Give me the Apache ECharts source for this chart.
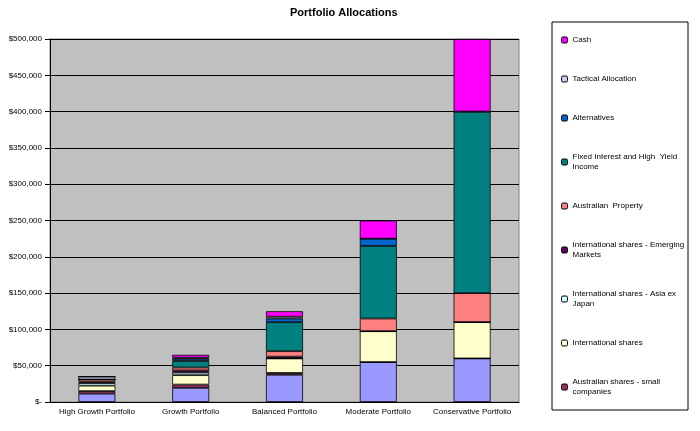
<!DOCTYPE html>
<html><head><meta charset="utf-8">
<script src="https://cdn.jsdelivr.net/npm/echarts@6/dist/echarts.min.js"></script>
<style>html,body{margin:0;padding:0;background:#fff}#c{width:700px;height:431px}</style>
</head><body><div id="c"></div>
<script>
const categories = ['High Growth Portfolio','Growth Portfolio','Balanced Portfolio','Moderate Portfolio','Conservative Portfolio'];
const seriesNames = ['Australian shares','Australian shares - small companies','International shares','International shares - Asia ex Japan','International shares - Emerging Markets','Australian Property','Fixed Interest and High  Yield Income','Alternatives','Tactical Allocation','Cash'];
const legendLabels = ['Australian shares','Australian shares - small companies','International shares','International shares - Asia ex Japan','International shares - Emerging\nMarkets','Australian  Property','Fixed Interest and High  Yield Income','Alternatives','Tactical Allocation','Cash'];
const colors = ['#9999FF','#993366','#FFFFCC','#CCFFFF','#660066','#FF8080','#008080','#0066CC','#CCCCFF','#FF00FF'];
const australianShares = [11500, 19500, 37500, 55000, 60000];
const ausSmall = [3500, 4500, 2500, 0, 0];
const intlShares = [7500, 13000, 20000, 42500, 50000];
const asiaExJapan = [3500, 3500, 0, 0, 0];
const emerging = [2000, 3000, 2500, 0, 0];
const property = [3000, 4000, 7500, 17500, 40000];
const fixedInterest = [0, 9000, 40000, 100000, 250000];
const alternatives = [0, 3000, 5000, 10000, 0];
const tactical = [4000, 1500, 2500, 0, 0];
const cash = [0, 4000, 7500, 25000, 100000];
const values = [australianShares, ausSmall, intlShares, asiaExJapan, emerging, property, fixedInterest, alternatives, tactical, cash];
const yTicks = {0:'$-'};

const chart = echarts.init(document.getElementById('c'));
const font = 'Liberation Sans';
chart.setOption({
  animation:false,
  title:{text:'Portfolio Allocations',left:285,top:2,textStyle:{fontFamily:font,fontSize:11,fontWeight:'bold',color:'#000'}},
  grid:{left:50,right:181,top:39,bottom:29,show:true,backgroundColor:'#C0C0C0',borderColor:'#808080',borderWidth:1},
  xAxis:{type:'category',data:categories,axisLine:{lineStyle:{color:'#000'}},axisTick:{lineStyle:{color:'#000'}},
    axisLabel:{fontFamily:font,fontSize:8,color:'#000',interval:0,margin:6}},
  yAxis:{type:'value',min:0,max:500000,interval:50000,axisLine:{show:true,lineStyle:{color:'#000'}},axisTick:{show:true,lineStyle:{color:'#000'}},
    splitLine:{lineStyle:{color:'#000',width:1}},
    axisLabel:{fontFamily:font,fontSize:8,color:'#000',formatter:v=>yTicks[v]||('$'+v.toLocaleString('en-US'))}},
  legend:{orient:'vertical',left:556,top:30,itemWidth:6,itemHeight:6,itemGap:29,
    data:seriesNames.slice().reverse(),
    formatter:n=>legendLabels[seriesNames.indexOf(n)],
    textStyle:{fontFamily:font,fontSize:8,color:'#000',width:125,overflow:'break',lineHeight:10},
    itemStyle:{borderColor:'#000',borderWidth:1}},
  graphic:[{type:'rect',shape:{x:552,y:22,width:136,height:388},style:{fill:'none',stroke:'#000',lineWidth:1}}],
  series:seriesNames.map((n,i)=>({name:n,type:'bar',stack:'a',barWidth:37,data:values[i],
    itemStyle:{color:colors[i],borderColor:'#000',borderWidth:0.8}}))
});
</script></body></html>
